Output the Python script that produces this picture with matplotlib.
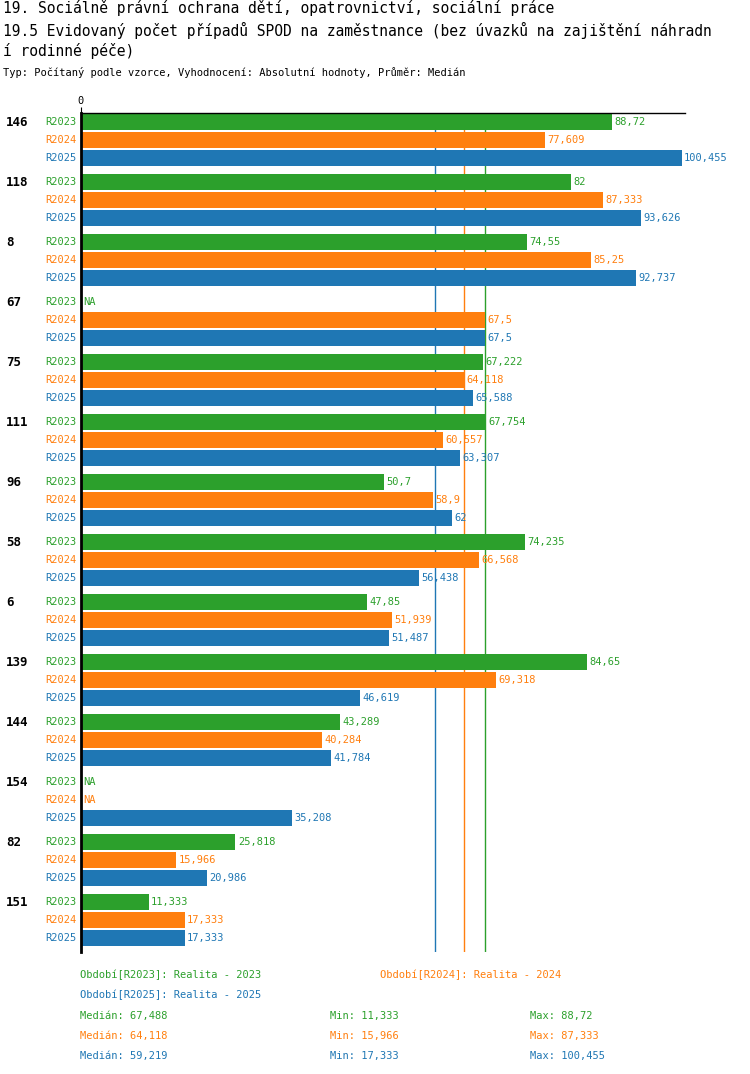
import numpy as np
import matplotlib
matplotlib.use('Agg')
from matplotlib import pyplot as plt

plt.rcParams['font.family'] = ['DejaVu Sans Mono']

groups = ['146', '118', '8', '67', '75', '111', '96', '58', '6', '139', '144', '154', '82', '151']
series = ['R2023', 'R2024', 'R2025']
colors = ['#2ca02c', '#ff7f0e', '#1f77b4']
r2023 = [88.72, 82, 74.55, None, 67.222, 67.754, 50.7, 74.235, 47.85, 84.65, 43.289, None, 25.818, 11.333]
r2024 = [77.609, 87.333, 85.25, 67.5, 64.118, 60.557, 58.9, 66.568, 51.939, 69.318, 40.284, None, 15.966, 17.333]
r2025 = [100.455, 93.626, 92.737, 67.5, 65.588, 63.307, 62, 56.438, 51.487, 46.619, 41.784, 35.208, 20.986, 17.333]
medians = [67.488, 64.118, 59.219]
mins = [11.333, 15.966, 17.333]
maxs = [88.72, 87.333, 100.455]

def fmt(v):
    return ('%g' % v).replace('.', ',')

W, H = 750, 1074
fig = plt.figure(figsize=(W / 100, H / 100), dpi=100)
top, bot = 113, 952
ax = fig.add_axes([81 / W, 1 - bot / H, (685 - 81) / W, (bot - top) / H])
ax.set_xlim(0, 101)
ax.set_ylim(bot, top)

data = [r2023, r2024, r2025]
for i, g in enumerate(groups):
    y0 = 122 + 60 * i
    ax.text(-12.5, y0, g, ha='left', va='center', fontsize=9, fontweight='bold', clip_on=False)
    for j in range(3):
        y = y0 + 18 * j
        v = data[j][i]
        ax.text(-0.8, y, series[j], ha='right', va='center', fontsize=7.5, color=colors[j], clip_on=False)
        if v is None:
            ax.text(0.4, y, 'NA', ha='left', va='center', fontsize=7.5, color=colors[j])
        else:
            ax.barh(y, v, height=16, color=colors[j])
            ax.text(v + 0.4, y, fmt(v), ha='left', va='center', fontsize=7.5, color=colors[j], clip_on=False)

for m, c in zip(medians, colors):
    ax.axvline(m, color=c, lw=1, zorder=0)

for s in ['right', 'bottom']:
    ax.spines[s].set_visible(False)
ax.spines['top'].set_linewidth(1)
ax.spines['left'].set_linewidth(2)
ax.set_yticks([])
ax.set_xticks([0])
ax.xaxis.tick_top()
ax.tick_params(axis='x', labelsize=7.5, length=4, pad=1)

fig.text(3 / W, 1 - 8 / H, '19. Sociálně právní ochrana dětí, opatrovnictví, sociální práce', fontsize=10.5, va='center')
fig.text(3 / W, 1 - 30 / H, '19.5 Evidovaný počet případů SPOD na zaměstnance (bez úvazků na zajištění náhradn', fontsize=10.5, va='center')
fig.text(3 / W, 1 - 51 / H, 'í rodinné péče)', fontsize=10.5, va='center')
fig.text(3 / W, 1 - 73 / H, 'Typ: Počítaný podle vzorce, Vyhodnocení: Absolutní hodnoty, Průměr: Medián', fontsize=7.5, va='center')

fig.text(80 / W, 1 - 975 / H, 'Období[R2023]: Realita - 2023', fontsize=7.5, color=colors[0], va='center')
fig.text(380 / W, 1 - 975 / H, 'Období[R2024]: Realita - 2024', fontsize=7.5, color=colors[1], va='center')
fig.text(80 / W, 1 - 995 / H, 'Období[R2025]: Realita - 2025', fontsize=7.5, color=colors[2], va='center')
for j in range(3):
    yy = 1 - (1016 + 20 * j) / H
    fig.text(80 / W, yy, 'Medián: ' + fmt(medians[j]), fontsize=7.5, color=colors[j], va='center')
    fig.text(330 / W, yy, 'Min: ' + fmt(mins[j]), fontsize=7.5, color=colors[j], va='center')
    fig.text(530 / W, yy, 'Max: ' + fmt(maxs[j]), fontsize=7.5, color=colors[j], va='center')

fig.savefig('out.png', dpi=100)
